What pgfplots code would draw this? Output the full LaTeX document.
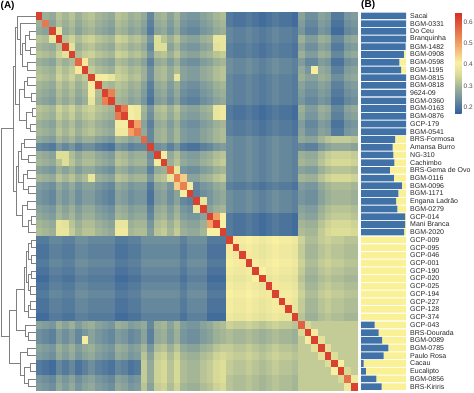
\documentclass[border=0pt]{standalone}
\usepackage{pgfplots}
\pgfplotsset{compat=1.18}
\usepackage{pgfplotstable}
\usepackage{fontspec}
\setmainfont{Liberation Sans}
\definecolor{sblue}{RGB}{64,114,168}
\definecolor{syel}{RGB}{250,241,150}
\definecolor{dgray}{RGB}{128,128,128}

\pgfplotstableread{
c1 c2 c3 c4 c5 c6 c7 c8 c9 c10 c11 c12 c13 c14 c15 c16 c17 c18 c19 c20 c21 c22 c23 c24 c25 c26 c27 c28 c29 c30 c31 c32 c33 c34 c35 c36 c37 c38 c39 c40 c41 c42 c43 c44 c45 c46 c47 c48 c49
62 29 28 32 30 32 29 31 32 30 29 28 32 31 29 30 28 23 29 30 27 30 26 25 25 27 28 30 31 21 20 20 21 20 19 20 21 20 20 19 27 24 24 27 26 21 21 25 26
29 55 27 31 29 31 28 30 31 29 28 27 31 30 28 29 27 22 28 29 26 29 25 24 24 26 27 29 30 21 20 20 21 20 19 20 21 20 20 19 26 23 23 26 25 20 20 24 25
28 27 62 38 28 30 27 29 30 28 27 26 30 29 27 28 26 21 27 28 25 28 24 23 23 25 26 28 29 23 22 22 23 22 21 22 23 22 22 21 25 22 22 25 24 19 19 23 24
32 31 38 63 32 34 31 33 34 32 31 30 34 33 31 32 30 25 36 32 29 32 28 27 27 29 30 38 38 23 22 22 23 22 21 22 23 22 22 21 29 26 26 29 28 23 23 27 28
30 29 28 32 62 37 29 31 32 30 29 28 32 31 29 30 28 23 36 36 27 30 26 25 25 27 28 37 38 22 21 21 22 21 20 21 22 21 21 20 27 24 24 27 26 21 21 25 26
32 31 30 34 37 62 31 33 34 32 31 30 34 33 31 32 30 25 31 32 29 32 28 27 27 29 30 32 33 22 21 21 22 21 20 21 22 21 21 20 29 26 26 29 28 23 23 27 28
29 28 27 31 29 31 57 42 31 29 28 27 31 30 28 29 27 22 28 29 26 29 25 24 24 26 27 29 30 24 23 23 24 23 22 23 24 23 23 22 26 23 23 26 25 20 20 24 25
31 30 29 33 31 33 42 62 33 31 30 29 33 32 30 31 29 24 30 31 28 31 27 26 26 28 29 31 32 24 23 23 24 23 22 23 24 23 23 22 28 25 40 28 27 22 22 26 27
32 31 30 34 32 34 31 33 62 40 40 38 34 33 31 32 29 24 30 31 28 38 27 26 26 28 29 31 32 23 22 22 23 22 21 22 23 22 22 21 29 27 27 29 28 24 24 27 28
30 29 28 32 30 32 29 31 40 62 31 30 32 31 29 30 27 22 28 29 26 29 25 24 24 26 27 29 30 23 22 22 23 22 21 22 23 22 22 21 27 25 25 27 26 22 22 25 26
29 28 27 31 29 31 28 30 40 31 62 54 31 30 28 29 26 21 27 28 25 28 24 23 23 25 26 28 29 23 22 22 23 22 21 22 23 22 22 21 26 24 24 26 25 21 21 24 25
28 27 26 30 28 30 27 29 38 30 54 62 30 29 27 28 25 20 26 27 24 27 23 22 22 24 25 27 28 23 22 22 23 22 21 22 23 22 22 21 25 23 23 25 24 20 20 23 24
32 31 30 34 32 34 31 33 34 32 31 30 62 55 40 39 30 25 31 32 29 32 28 27 27 29 30 38 39 21 20 20 21 20 19 20 21 20 20 19 29 26 26 29 28 23 23 27 28
31 30 29 33 31 33 30 32 33 31 30 29 55 62 40 39 29 24 30 31 28 31 27 26 26 28 29 38 39 21 20 20 21 20 19 20 21 20 20 19 28 25 25 28 27 22 22 26 27
29 28 27 31 29 31 28 30 31 29 28 27 40 40 62 50 27 22 28 29 26 29 25 24 24 26 27 29 30 22 21 21 22 21 20 21 22 21 21 20 26 23 23 26 25 20 20 24 25
30 29 28 32 30 32 29 31 32 30 29 28 39 39 50 55 28 23 29 30 27 30 26 25 25 27 28 30 31 22 21 21 22 21 20 21 22 21 21 20 27 24 24 27 26 21 21 25 26
28 27 26 30 28 30 27 29 29 27 26 25 30 29 27 28 57 23 29 30 27 30 26 25 25 27 28 30 31 24 23 23 24 23 22 23 24 23 23 22 28 27 27 30 32 33 33 33 32
23 22 21 25 23 25 22 24 24 22 21 20 25 24 22 23 23 62 24 25 22 25 21 20 20 22 23 25 26 24 23 23 24 23 22 23 24 23 23 22 23 22 22 25 27 28 28 28 27
29 28 27 36 36 31 28 30 30 28 27 26 31 30 28 29 29 24 62 40 28 31 27 26 26 28 29 31 32 24 23 23 24 23 22 23 24 23 23 22 29 28 28 31 33 34 34 34 33
30 29 28 32 36 32 29 31 31 29 28 27 32 31 29 30 30 25 40 62 29 32 28 27 27 29 30 32 33 24 23 23 24 23 22 23 24 23 23 22 30 29 29 32 34 35 35 35 34
27 26 25 29 27 29 26 28 28 26 25 24 29 28 26 27 27 22 28 29 57 38 25 24 24 26 27 29 30 24 23 23 24 23 22 23 24 23 23 22 27 26 26 29 31 32 32 32 31
30 29 28 32 30 32 29 31 38 29 28 27 32 31 29 30 30 25 31 32 38 54 45 27 27 29 30 32 33 24 23 23 24 23 22 23 24 23 23 22 30 29 29 32 34 35 35 35 34
26 25 24 28 26 28 25 27 27 25 24 23 28 27 25 26 26 21 27 28 25 45 54 40 23 25 26 28 29 22 21 21 22 21 20 21 22 21 21 20 26 25 25 28 30 31 31 31 30
25 24 23 27 25 27 24 26 26 24 23 22 27 26 24 25 25 20 26 27 24 27 40 62 22 24 25 27 28 24 23 23 24 23 22 23 24 23 23 22 25 24 24 27 29 30 30 30 29
25 24 23 27 25 27 24 26 26 24 23 22 27 26 24 25 25 20 26 27 24 27 23 22 62 38 25 27 28 24 23 23 24 23 22 23 24 23 23 22 25 24 24 27 29 30 30 30 29
27 26 25 29 27 29 26 28 28 26 25 24 29 28 26 27 27 22 28 29 26 29 25 24 38 62 27 29 30 24 23 23 24 23 22 23 24 23 23 22 27 26 26 29 31 32 32 32 31
28 27 26 30 28 30 27 29 29 27 26 25 30 29 27 28 28 23 29 30 27 30 26 25 25 27 62 50 41 21 20 20 21 20 19 20 21 20 20 19 28 27 27 30 32 33 33 33 32
30 29 28 38 37 32 29 31 31 29 28 27 38 38 29 30 30 25 31 32 29 32 28 27 27 29 50 62 41 21 20 20 21 20 19 20 21 20 20 19 30 29 29 32 34 35 35 35 34
31 30 29 38 38 33 30 32 32 30 29 28 39 39 30 31 31 26 32 33 30 33 29 28 28 30 41 41 62 21 20 20 21 20 19 20 21 20 20 19 31 30 30 33 35 36 36 36 35
21 21 23 23 22 22 24 24 23 23 23 23 21 21 22 22 24 24 24 24 24 24 22 24 24 24 21 21 21 62 42 40 41 40 39 40 41 40 40 39 34 31 31 33 34 33 33 32 32
20 20 22 22 21 21 23 23 22 22 22 22 20 20 21 21 23 23 23 23 23 23 21 23 23 23 20 20 20 42 62 39 40 39 38 39 40 39 39 38 33 30 30 32 33 32 32 31 31
20 20 22 22 21 21 23 23 22 22 22 22 20 20 21 21 23 23 23 23 23 23 21 23 23 23 20 20 20 40 39 62 42 39 38 39 40 39 39 38 33 30 30 32 33 32 32 31 31
21 21 23 23 22 22 24 24 23 23 23 23 21 21 22 22 24 24 24 24 24 24 22 24 24 24 21 21 21 41 40 42 62 40 39 40 41 40 40 39 34 31 31 33 34 33 33 32 32
20 20 22 22 21 21 23 23 22 22 22 22 20 20 21 21 23 23 23 23 23 23 21 23 23 23 20 20 20 40 39 39 40 62 41 39 40 39 39 38 33 30 30 32 33 32 32 31 31
19 19 21 21 20 20 22 22 21 21 21 21 19 19 20 20 22 22 22 22 22 22 20 22 22 22 19 19 19 39 38 38 39 41 62 38 39 38 38 37 32 29 29 31 32 31 31 30 30
20 20 22 22 21 21 23 23 22 22 22 22 20 20 21 21 23 23 23 23 23 23 21 23 23 23 20 20 20 40 39 39 40 39 38 62 42 39 39 38 33 30 30 32 33 32 32 31 31
21 21 23 23 22 22 24 24 23 23 23 23 21 21 22 22 24 24 24 24 24 24 22 24 24 24 21 21 21 41 40 40 41 40 39 42 62 40 40 39 34 31 31 33 34 33 33 32 32
20 20 22 22 21 21 23 23 22 22 22 22 20 20 21 21 23 23 23 23 23 23 21 23 23 23 20 20 20 40 39 39 40 39 38 39 40 62 42 38 33 30 30 32 33 32 32 31 31
20 20 22 22 21 21 23 23 22 22 22 22 20 20 21 21 23 23 23 23 23 23 21 23 23 23 20 20 20 40 39 39 40 39 38 39 40 42 62 38 33 30 30 32 33 32 32 31 31
19 19 21 21 20 20 22 22 21 21 21 21 19 19 20 20 22 22 22 22 22 22 20 22 22 22 19 19 19 39 38 38 39 38 37 38 39 38 38 62 32 29 29 31 32 31 31 30 30
27 26 25 29 27 29 26 28 29 27 26 25 29 28 26 27 28 23 29 30 27 30 26 25 25 27 28 30 31 34 33 33 34 33 32 33 34 33 33 32 58 35 33 33 33 33 33 33 33
24 23 22 26 24 26 23 25 27 25 24 23 26 25 23 24 27 22 28 29 26 29 25 24 24 26 27 29 30 31 30 30 31 30 29 30 31 30 30 29 35 62 40 33 33 33 33 33 33
24 23 22 26 24 26 23 40 27 25 24 23 26 25 23 24 27 22 28 29 26 29 25 24 24 26 27 29 30 31 30 30 31 30 29 30 31 30 30 29 33 40 62 37 33 33 33 33 33
27 26 25 29 27 29 26 28 29 27 26 25 29 28 26 27 30 25 31 32 29 32 28 27 27 29 30 32 33 33 32 32 33 32 31 32 33 32 32 31 33 33 37 62 37 33 33 33 33
26 25 24 28 26 28 25 27 28 26 25 24 28 27 25 26 32 27 33 34 31 34 30 29 29 31 32 34 35 34 33 33 34 33 32 33 34 33 33 32 33 33 33 37 62 36 33 33 33
21 20 19 23 21 23 20 22 24 22 21 20 23 22 20 21 33 28 34 35 32 35 31 30 30 32 33 35 36 33 32 32 33 32 31 32 33 32 32 31 33 33 33 33 36 62 41 33 33
21 20 19 23 21 23 20 22 24 22 21 20 23 22 20 21 33 28 34 35 32 35 31 30 30 32 33 35 36 33 32 32 33 32 31 32 33 32 32 31 33 33 33 33 33 41 62 35 33
25 24 23 27 25 27 24 26 27 25 24 23 27 26 24 25 33 28 34 35 32 35 31 30 30 32 33 35 36 32 31 31 32 31 30 31 32 31 31 30 33 33 33 33 33 33 35 56 39
26 25 24 28 26 28 25 27 28 26 25 24 28 27 25 26 32 27 33 34 31 34 30 29 29 31 32 34 35 32 31 31 32 31 30 31 32 31 31 30 33 33 33 33 33 33 33 39 62
}\M

\pgfplotstableread{
y q
1 1.00
2 1.00
3 1.00
4 1.00
5 0.99
6 0.95
7 0.85
8 0.89
9 1.00
10 1.00
11 1.00
12 1.00
13 1.00
14 1.00
15 1.00
16 1.00
17 0.76
18 0.70
19 0.72
20 0.74
21 0.64
22 0.73
23 0.91
24 0.83
25 0.78
26 0.81
27 0.98
28 0.98
29 0.96
30 0
31 0
32 0
33 0
34 0
35 0
36 0
37 0
38 0
39 0
40 0
41 0.30
42 0.39
43 0.47
44 0.61
45 0.50
46 0.06
47 0.11
48 0.34
49 0.46
}\Q

\begin{document}
\begin{tikzpicture}
% dendrogram
\begin{axis}[at={(0pt,1.5pt)}, anchor=south west, width=36pt, height=378.5pt, scale only axis,
  xmin=0, xmax=36, ymin=0.5, ymax=49.5, y dir=reverse, hide axis, clip=false]
\addplot[dgray, line width=0.5pt, unbounded coords=jump] coordinates {
(36,3)(29,3)(29,4)(36,4) (nan,nan)
(36,5)(30,5)(30,6)(36,6) (nan,nan)
(36,7)(27,7)(27,8)(36,8) (nan,nan)
(29,3.5)(25,3.5)(25,5.5)(30,5.5) (nan,nan)
(25,4.5)(22,4.5)(22,7.5)(27,7.5) (nan,nan)
(36,2)(20,2)(20,6)(22,6) (nan,nan)
(36,1)(17.5,1)(17.5,4)(20,4) (nan,nan)
(36,9)(27,9)(27,10)(36,10) (nan,nan)
(36,11)(31,11)(31,12)(36,12) (nan,nan)
(27,9.5)(24,9.5)(24,11.5)(31,11.5) (nan,nan)
(36,13)(32,13)(32,14)(36,14) (nan,nan)
(36,15)(30,15)(30,16)(36,16) (nan,nan)
(32,13.5)(26,13.5)(26,15.5)(30,15.5) (nan,nan)
(24,10.5)(19,10.5)(19,14.5)(26,14.5) (nan,nan)
(17.5,2.5)(15.5,2.5)(15.5,12.5)(19,12.5) (nan,nan)
(36,17)(24,17)(24,18)(36,18) (nan,nan)
(36,19)(28,19)(28,20)(36,20) (nan,nan)
(24,17.5)(21,17.5)(21,19.5)(28,19.5) (nan,nan)
(36,21)(27,21)(27,22)(36,22) (nan,nan)
(36,23)(28,23)(28,24)(36,24) (nan,nan)
(27,21.5)(23,21.5)(23,23.5)(28,23.5) (nan,nan)
(21,18.5)(18.5,18.5)(18.5,22.5)(23,22.5) (nan,nan)
(36,25)(27,25)(27,26)(36,26) (nan,nan)
(36,27)(31,27)(31,28)(36,28) (nan,nan)
(31,27.5)(28,27.5)(28,29)(36,29) (nan,nan)
(27,25.5)(22,25.5)(22,28.25)(28,28.25) (nan,nan)
(18.5,20.5)(16.5,20.5)(16.5,26.875)(22,26.875) (nan,nan)
(15.5,7.5)(13,7.5)(13,23.6875)(16.5,23.6875) (nan,nan)
(36,30)(31,30)(31,31)(36,31) (nan,nan)
(36,32)(31,32)(31,33)(36,33) (nan,nan)
(31,30.5)(28,30.5)(28,32.5)(31,32.5) (nan,nan)
(36,34)(31,34)(31,35)(36,35) (nan,nan)
(36,36)(30,36)(30,37)(36,37) (nan,nan)
(31,34.5)(28,34.5)(28,36.5)(30,36.5) (nan,nan)
(28,31.5)(26,31.5)(26,35.5)(28,35.5) (nan,nan)
(36,38)(30,38)(30,39)(36,39) (nan,nan)
(30,38.5)(28,38.5)(28,40)(36,40) (nan,nan)
(26,33.5)(24,33.5)(24,39.25)(28,39.25) (nan,nan)
(36,42)(28,42)(28,43)(36,43) (nan,nan)
(36,41)(25,41)(25,42.5)(28,42.5) (nan,nan)
(24,36.375)(16,36.375)(16,41.75)(25,41.75) (nan,nan)
(36,44)(27,44)(27,45)(36,45) (nan,nan)
(36,46)(30,46)(30,47)(36,47) (nan,nan)
(36,48)(28,48)(28,49)(36,49) (nan,nan)
(30,46.5)(24,46.5)(24,48.5)(28,48.5) (nan,nan)
(27,44.5)(20,44.5)(20,47.5)(24,47.5) (nan,nan)
(16,39.0625)(9,39.0625)(9,46)(20,46) (nan,nan)
(13,15.59375)(0.8,15.59375)(0.8,42.53125)(9,42.53125)
};
\end{axis}

% heatmap
\begin{axis}[at={(36pt,1.5pt)}, anchor=south west, width=321.5pt, height=378.5pt, scale only axis,
  xmin=0.5, xmax=49.5, ymin=0.5, ymax=49.5, y dir=reverse,
  xtick=\empty, ytick=\empty, axis line style={draw=none},
  colormap={kin}{rgb255(1.72cm)=(50,95,155) rgb255(2.5cm)=(120,150,157) rgb255(3cm)=(165,182,150) rgb255(3.5cm)=(215,218,150) rgb255(4.1cm)=(250,240,162) rgb255(5cm)=(242,160,100) rgb255(6.47cm)=(212,45,38)},
  point meta min=0.172, point meta max=0.647,
  colorbar,
  colorbar style={at={(1.3033,1)}, anchor=north west, scale only axis, width=6.7pt, height=101.3pt,
    ytick={0.2,0.3,0.4,0.5,0.6}, axis line style={draw=none}, major tick length=0pt,
    yticklabel style={anchor=west, inner sep=0pt, xshift=1.8pt, text=black!70, font=\fontsize{6.5}{7}\selectfont,
      /pgf/number format/assume math mode=true, /pgf/number format/fixed, /pgf/number format/precision=1}},
]
\pgfplotsinvokeforeach{1,...,49}{
  \addplot[scatter, only marks, mark=square*, mark size=3.9pt, point meta=explicit,
    mark options={xscale=0.849, line width=0.1pt},
    scatter/use mapped color={draw=mapped color, fill=mapped color}]
    table[x expr=#1, y expr=\coordindex+1, meta expr=\thisrow{c#1}/100] {\M};
}
\end{axis}

% structure bars
\begin{axis}[at={(361pt,1.5pt)}, anchor=south west, width=45pt, height=378.5pt, scale only axis,
  xbar stacked, bar width=0.86, xmin=0, xmax=1, ymin=0.5, ymax=49.5, y dir=reverse,
  xtick=\empty, ytick={1,...,49}, yticklabel pos=right, axis line style={draw=none}, major tick length=0pt,
  yticklabel style={anchor=west, inner sep=0pt, xshift=4pt, text=black!85, font=\fontsize{7}{8}\selectfont},
  yticklabels={Sacai,BGM-0331,Do Ceu,Branquinha,BGM-1482,BGM-0908,BGM-0598,BGM-1195,BGM-0815,BGM-0818,9624-09,BGM-0360,BGM-0163,BGM-0876,GCP-179,BGM-0541,BRS-Formosa,Amansa Burro,NG-310,Cachimbo,BRS-Gema de Ovo,BGM-0116,BGM-0096,BGM-1171,Engana Ladrão,BGM-0279,GCP-014,Mani Branca,BGM-2020,GCP-009,GCP-095,GCP-046,GCP-001,GCP-190,GCP-020,GCP-025,GCP-194,GCP-227,GCP-128,GCP-374,GCP-043,BRS-Dourada,BGM-0089,BGM-0785,Paulo Rosa,Cacau,Eucalipto,BGM-0856,BRS-Kiriris},
  clip=false]
\addplot[fill=sblue, draw=none] table[x=q, y=y] {\Q};
\addplot[fill=syel, draw=none] table[x expr=1-\thisrow{q}, y=y] {\Q};
\end{axis}

\node[anchor=north west, inner sep=0pt, font=\bfseries\fontsize{10}{12}\selectfont] at (0.5pt,391pt) {(A)};
\node[anchor=north west, inner sep=0pt, font=\bfseries\fontsize{10}{12}\selectfont] at (361pt,391.5pt) {(B)};

\pgfresetboundingbox
\useasboundingbox (0pt,0pt) rectangle (474pt,392pt);
\end{tikzpicture}
\end{document}
